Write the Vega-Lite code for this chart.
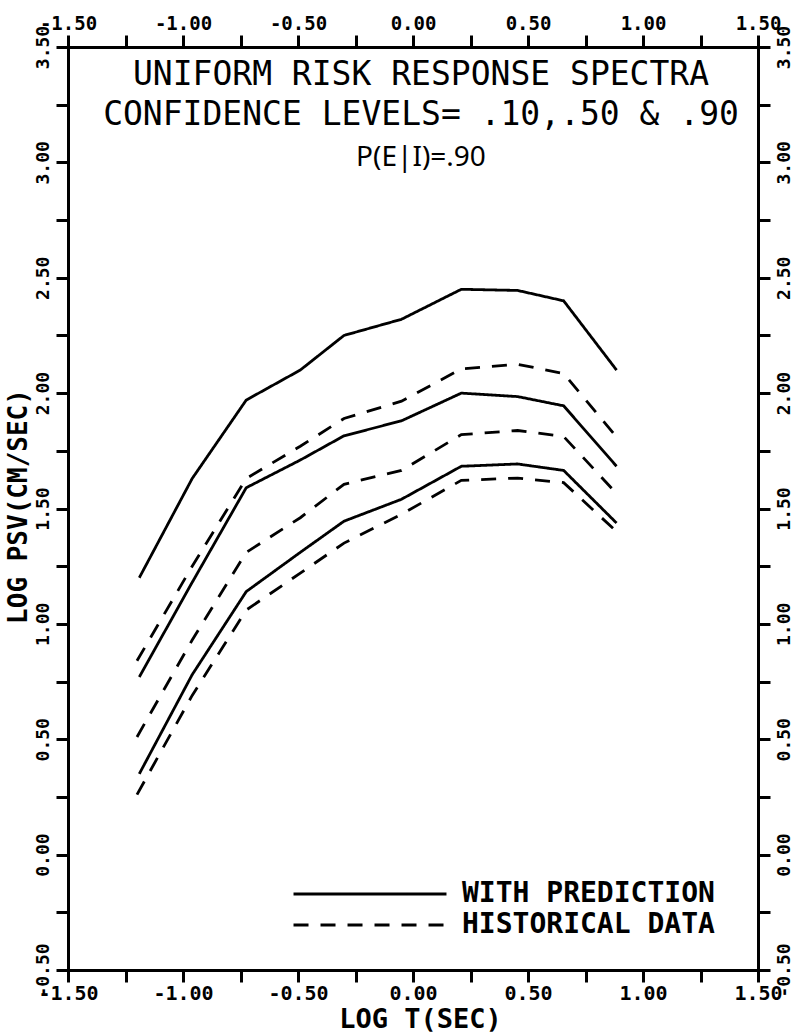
{
  "$schema": "https://vega.github.io/schema/vega-lite/v6.json",
  "width": 690,
  "height": 923,
  "autosize": {"type": "none"},
  "padding": {"left": 68, "top": 47, "right": 34, "bottom": 63},
  "background": "white",
  "config": {"view": {"stroke": null}},
  "title": {
    "text": ["UNIFORM RISK RESPONSE SPECTRA", "CONFIDENCE LEVELS= .10,.50 & .90"],
    "subtitle": "P(E|I)=.90",
    "orient": "top",
    "anchor": "middle",
    "frame": "group",
    "offset": -158,
    "dx": 8,
    "font": "DejaVu Sans Mono",
    "fontSize": 33,
    "fontWeight": "normal",
    "lineHeight": 40,
    "color": "black",
    "subtitleFont": "Noto Sans",
    "subtitleFontSize": 28,
    "subtitleFontWeight": "normal",
    "subtitleColor": "black",
    "subtitlePadding": 12
  },
  "data": {
    "values": [
      {"curve": "S90", "source": "WITH PREDICTION", "logT": -1.19, "logPSV": 1.20},
      {"curve": "S90", "source": "WITH PREDICTION", "logT": -0.96, "logPSV": 1.63},
      {"curve": "S90", "source": "WITH PREDICTION", "logT": -0.725, "logPSV": 1.97},
      {"curve": "S90", "source": "WITH PREDICTION", "logT": -0.49, "logPSV": 2.10},
      {"curve": "S90", "source": "WITH PREDICTION", "logT": -0.30, "logPSV": 2.25},
      {"curve": "S90", "source": "WITH PREDICTION", "logT": -0.05, "logPSV": 2.32},
      {"curve": "S90", "source": "WITH PREDICTION", "logT": 0.21, "logPSV": 2.45},
      {"curve": "S90", "source": "WITH PREDICTION", "logT": 0.455, "logPSV": 2.445},
      {"curve": "S90", "source": "WITH PREDICTION", "logT": 0.655, "logPSV": 2.40},
      {"curve": "S90", "source": "WITH PREDICTION", "logT": 0.885, "logPSV": 2.10},
      {"curve": "S50", "source": "WITH PREDICTION", "logT": -1.19, "logPSV": 0.77},
      {"curve": "S50", "source": "WITH PREDICTION", "logT": -0.96, "logPSV": 1.18},
      {"curve": "S50", "source": "WITH PREDICTION", "logT": -0.725, "logPSV": 1.59},
      {"curve": "S50", "source": "WITH PREDICTION", "logT": -0.49, "logPSV": 1.71},
      {"curve": "S50", "source": "WITH PREDICTION", "logT": -0.30, "logPSV": 1.815},
      {"curve": "S50", "source": "WITH PREDICTION", "logT": -0.05, "logPSV": 1.88},
      {"curve": "S50", "source": "WITH PREDICTION", "logT": 0.21, "logPSV": 2.00},
      {"curve": "S50", "source": "WITH PREDICTION", "logT": 0.455, "logPSV": 1.985},
      {"curve": "S50", "source": "WITH PREDICTION", "logT": 0.655, "logPSV": 1.945},
      {"curve": "S50", "source": "WITH PREDICTION", "logT": 0.885, "logPSV": 1.683},
      {"curve": "S10", "source": "WITH PREDICTION", "logT": -1.19, "logPSV": 0.35},
      {"curve": "S10", "source": "WITH PREDICTION", "logT": -0.96, "logPSV": 0.78},
      {"curve": "S10", "source": "WITH PREDICTION", "logT": -0.725, "logPSV": 1.14},
      {"curve": "S10", "source": "WITH PREDICTION", "logT": -0.49, "logPSV": 1.31},
      {"curve": "S10", "source": "WITH PREDICTION", "logT": -0.30, "logPSV": 1.445},
      {"curve": "S10", "source": "WITH PREDICTION", "logT": -0.05, "logPSV": 1.54},
      {"curve": "S10", "source": "WITH PREDICTION", "logT": 0.21, "logPSV": 1.683},
      {"curve": "S10", "source": "WITH PREDICTION", "logT": 0.455, "logPSV": 1.693},
      {"curve": "S10", "source": "WITH PREDICTION", "logT": 0.655, "logPSV": 1.665},
      {"curve": "S10", "source": "WITH PREDICTION", "logT": 0.885, "logPSV": 1.437},
      {"curve": "H90", "source": "HISTORICAL DATA", "logT": -1.20, "logPSV": 0.84},
      {"curve": "H90", "source": "HISTORICAL DATA", "logT": -0.96, "logPSV": 1.25},
      {"curve": "H90", "source": "HISTORICAL DATA", "logT": -0.725, "logPSV": 1.63},
      {"curve": "H90", "source": "HISTORICAL DATA", "logT": -0.49, "logPSV": 1.77},
      {"curve": "H90", "source": "HISTORICAL DATA", "logT": -0.30, "logPSV": 1.89},
      {"curve": "H90", "source": "HISTORICAL DATA", "logT": -0.05, "logPSV": 1.965},
      {"curve": "H90", "source": "HISTORICAL DATA", "logT": 0.21, "logPSV": 2.105},
      {"curve": "H90", "source": "HISTORICAL DATA", "logT": 0.455, "logPSV": 2.125},
      {"curve": "H90", "source": "HISTORICAL DATA", "logT": 0.655, "logPSV": 2.085},
      {"curve": "H90", "source": "HISTORICAL DATA", "logT": 0.885, "logPSV": 1.81},
      {"curve": "H50", "source": "HISTORICAL DATA", "logT": -1.20, "logPSV": 0.51},
      {"curve": "H50", "source": "HISTORICAL DATA", "logT": -0.96, "logPSV": 0.93},
      {"curve": "H50", "source": "HISTORICAL DATA", "logT": -0.725, "logPSV": 1.31},
      {"curve": "H50", "source": "HISTORICAL DATA", "logT": -0.49, "logPSV": 1.46},
      {"curve": "H50", "source": "HISTORICAL DATA", "logT": -0.30, "logPSV": 1.605},
      {"curve": "H50", "source": "HISTORICAL DATA", "logT": -0.05, "logPSV": 1.665},
      {"curve": "H50", "source": "HISTORICAL DATA", "logT": 0.21, "logPSV": 1.82},
      {"curve": "H50", "source": "HISTORICAL DATA", "logT": 0.455, "logPSV": 1.838},
      {"curve": "H50", "source": "HISTORICAL DATA", "logT": 0.655, "logPSV": 1.812},
      {"curve": "H50", "source": "HISTORICAL DATA", "logT": 0.885, "logPSV": 1.565},
      {"curve": "H10", "source": "HISTORICAL DATA", "logT": -1.20, "logPSV": 0.26},
      {"curve": "H10", "source": "HISTORICAL DATA", "logT": -0.96, "logPSV": 0.69},
      {"curve": "H10", "source": "HISTORICAL DATA", "logT": -0.725, "logPSV": 1.06},
      {"curve": "H10", "source": "HISTORICAL DATA", "logT": -0.49, "logPSV": 1.22},
      {"curve": "H10", "source": "HISTORICAL DATA", "logT": -0.30, "logPSV": 1.35},
      {"curve": "H10", "source": "HISTORICAL DATA", "logT": -0.05, "logPSV": 1.475},
      {"curve": "H10", "source": "HISTORICAL DATA", "logT": 0.21, "logPSV": 1.622},
      {"curve": "H10", "source": "HISTORICAL DATA", "logT": 0.455, "logPSV": 1.632},
      {"curve": "H10", "source": "HISTORICAL DATA", "logT": 0.655, "logPSV": 1.612},
      {"curve": "H10", "source": "HISTORICAL DATA", "logT": 0.885, "logPSV": 1.40}
    ]
  },
  "layer": [
    {
      "mark": {"type": "line", "color": "black", "strokeWidth": 2.8, "strokeCap": "butt"},
      "encoding": {
        "x": {
          "field": "logT", "type": "quantitative",
          "scale": {"domain": [-1.5, 1.5], "nice": false, "zero": false},
          "axis": {
            "orient": "bottom",
            "values": [-1.5, -1.25, -1, -0.75, -0.5, -0.25, 0, 0.25, 0.5, 0.75, 1, 1.25, 1.5],
            "labelExpr": "abs(datum.value*2 - round(datum.value*2)) < 0.01 ? replace(format(datum.value, '.2f'), '\u2212', '-') : ''",
            "grid": false,
            "domainColor": "black", "domainWidth": 3, "domainCap": "square",
            "tickColor": "black", "tickWidth": 3, "tickSize": 12,
            "labelFont": "DejaVu Sans Mono", "labelFontWeight": "bold", "labelFontSize": 20, "labelColor": "black",
            "labelPadding": 1, "labelDx": 11,
            "labelOverlap": false, "labelBound": false, "labelFlush": false,
            "title": "LOG T(SEC)",
            "titleFont": "DejaVu Sans Mono", "titleFontWeight": "bold", "titleFontSize": 27, "titleColor": "black",
            "titleX": 352, "titleY": 49, "titleAlign": "center", "titleBaseline": "middle"
          }
        },
        "y": {
          "field": "logPSV", "type": "quantitative",
          "scale": {"domain": [-0.5, 3.5], "nice": false, "zero": false},
          "axis": {
            "orient": "left",
            "values": [-0.5, -0.25, 0, 0.25, 0.5, 0.75, 1, 1.25, 1.5, 1.75, 2, 2.25, 2.5, 2.75, 3, 3.25, 3.5],
            "labelExpr": "abs(datum.value*2 - round(datum.value*2)) < 0.01 ? replace(format(datum.value, '.2f'), '\u2212', '-') : ''",
            "grid": false,
            "domainColor": "black", "domainWidth": 3, "domainCap": "square",
            "tickColor": "black", "tickWidth": 3, "tickSize": 12,
            "labelFont": "DejaVu Sans Mono", "labelFontWeight": "bold", "labelFontSize": 18, "labelColor": "black",
            "labelAngle": 270, "labelAlign": "center", "labelBaseline": "bottom",
            "labelPadding": 4, "labelDx": 8,
            "labelOverlap": false, "labelBound": false, "labelFlush": false,
            "title": "LOG PSV(CM/SEC)",
            "titleFont": "DejaVu Sans Mono", "titleFontWeight": "bold", "titleFontSize": 26, "titleColor": "black",
            "titleAngle": 270, "titleX": -50, "titleY": 459, "titleAlign": "center", "titleBaseline": "middle"
          }
        },
        "detail": {"field": "curve", "type": "nominal"},
        "strokeDash": {
          "field": "source", "type": "nominal",
          "scale": {"domain": ["WITH PREDICTION", "HISTORICAL DATA"], "range": [[1, 0], [15, 12]]},
          "legend": {
            "orient": "none", "legendX": 285, "legendY": 830,
            "title": null, "padding": 0,
            "symbolType": "M-5,0H5", "symbolSize": 936, "symbolStrokeWidth": 2.8, "symbolStrokeColor": "black",
            "rowPadding": 0,
            "labelFont": "DejaVu Sans Mono", "labelFontWeight": "bold", "labelFontSize": 28, "labelColor": "black",
            "labelOffset": 75, "labelBaseline": "middle", "labelLimit": 400
          }
        }
      }
    },
    {
      "mark": {"type": "line", "opacity": 0},
      "encoding": {
        "x": {
          "field": "logT", "type": "quantitative",
          "axis": {
            "orient": "top",
            "values": [-1.5, -1.25, -1, -0.75, -0.5, -0.25, 0, 0.25, 0.5, 0.75, 1, 1.25, 1.5],
            "labelExpr": "abs(datum.value*2 - round(datum.value*2)) < 0.01 ? replace(format(datum.value, '.2f'), '\u2212', '-') : ''",
            "grid": false,
            "domainColor": "black", "domainWidth": 3, "domainCap": "square",
            "tickColor": "black", "tickWidth": 3, "tickSize": 12,
            "labelFont": "DejaVu Sans Mono", "labelFontWeight": "bold", "labelFontSize": 19, "labelColor": "black",
            "labelPadding": 2, "labelDx": 10,
            "labelOverlap": false, "labelBound": false, "labelFlush": false,
            "title": null
          }
        },
        "y": {
          "field": "logPSV", "type": "quantitative",
          "axis": {
            "orient": "right",
            "values": [-0.5, -0.25, 0, 0.25, 0.5, 0.75, 1, 1.25, 1.5, 1.75, 2, 2.25, 2.5, 2.75, 3, 3.25, 3.5],
            "labelExpr": "abs(datum.value*2 - round(datum.value*2)) < 0.01 ? replace(format(datum.value, '.2f'), '\u2212', '-') : ''",
            "grid": false,
            "domainColor": "black", "domainWidth": 3, "domainCap": "square",
            "tickColor": "black", "tickWidth": 3, "tickSize": 12,
            "labelFont": "DejaVu Sans Mono", "labelFontWeight": "bold", "labelFontSize": 18, "labelColor": "black",
            "labelAngle": 270, "labelAlign": "center", "labelBaseline": "top",
            "labelPadding": 5, "labelDx": 10,
            "labelOverlap": false, "labelBound": false, "labelFlush": false,
            "title": null
          }
        },
        "detail": {"field": "curve", "type": "nominal"}
      }
    }
  ],
  "resolve": {"axis": {"x": "independent", "y": "independent"}}
}
